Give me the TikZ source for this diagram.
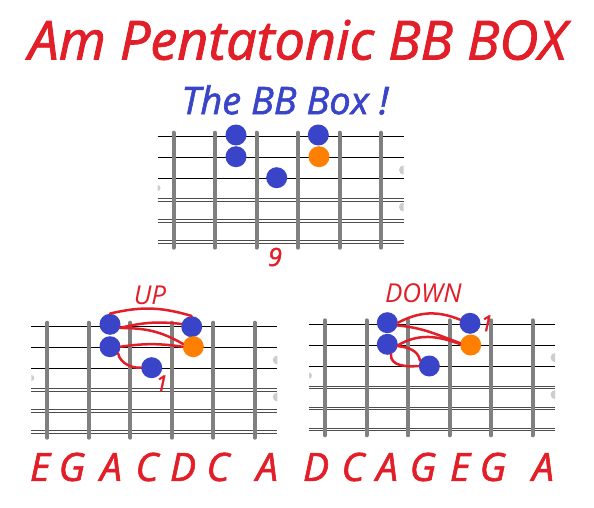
\documentclass[tikz,border=0pt]{standalone}
\usepackage{fontspec}
\setmainfont{Open Sans}
\newfontfamily\comicish{Open Sans Italic}[FakeBold=1.6]
\definecolor{myred}{RGB}{226,30,40}
\definecolor{myblue}{RGB}{58,68,200}
\definecolor{myorange}{RGB}{255,128,0}
\definecolor{fretgray}{RGB}{128,128,128}
\definecolor{markgray}{RGB}{205,205,205}
\tikzset{
  stringline/.style={black, line width=0.8pt},
  dblstring/.style={black!70, line width=0.7pt},
  fretline/.style={fretgray, line width=4pt, line cap=round},
  bdot/.style={circle, fill=myblue, minimum size=21pt, inner sep=0pt},
  odot/.style={circle, fill=myorange, minimum size=21pt, inner sep=0pt},
  redline/.style={myred, line width=2.5pt, line cap=round},
  redtxt/.style={text=myred, inner sep=0pt},
  bluetxt/.style={text=myblue, inner sep=0pt},
}
\newcommand{\fretboard}[2]{%
  \begin{scope}[shift={(#1,#2)}]
    \foreach \j in {0,1,2} \draw[stringline] (-16,-21*\j) -- (230,-21*\j);
    \foreach \j in {3,4,5} {
      \draw[dblstring] (-16,-21*\j+1.3) -- (230,-21*\j+1.3);
      \draw[dblstring] (-16,-21*\j-1.3) -- (230,-21*\j-1.3);
    }
    \foreach \i in {0,...,5} \draw[fretline] (41.5*\i,4) -- (41.5*\i,-111);
    \fill[markgray] (230,-33.3+4.5) arc (90:270:4.5) -- cycle;
    \fill[markgray] (230,-70.3+4.5) arc (90:270:4.5) -- cycle;
    \fill[markgray] (-16,-51.3+3) arc (90:-90:3) -- cycle;
  \end{scope}}
\begin{document}
\begin{tikzpicture}[x=1pt,y=1pt]
\useasboundingbox (0,0) rectangle (594,507);
\fill[white] (0,0) rectangle (594,507);

% titles
\node[redtxt, font=\comicish\fontsize{54}{60}\selectfont] (title) at (297.5,467) {Am Pentatonic BB BOX};
\node[bluetxt, font=\comicish\fontsize{38}{42}\selectfont] (sub) at (285,407) {The BB Box !};

% top board
\fretboard{173.5}{370.3}
\node[bdot] (T1) at (236,372) {};
\node[bdot] (T2) at (236,350.3) {};
\node[bdot] (T3) at (276.7,329.3) {};
\node[bdot] (T4) at (318.3,372) {};
\node[odot] (T5) at (319,350.3) {};
\node[redtxt, font=\comicish\fontsize{25}{28}\selectfont] (nine) at (275,250) {9};

% bottom-left board
\fretboard{47.3}{180.3}
\node[bdot] (L1) at (110,182.7) {};
\node[bdot] (L2) at (110,160.3) {};
\node[bdot] (L3) at (151.7,139.3) {};
\node[bdot] (L4) at (191.7,180.3) {};
\node[odot] (L5) at (193.3,160.3) {};
\node[redtxt, font=\itshape\fontsize{26}{30}\selectfont] (up) at (150,212) {UP};
\node[redtxt, font=\comicish\fontsize{22}{26}\selectfont] (oneL) at (161.7,123.7) {1};
\draw[redline] (L1.north) to[bend left=15] (L4.north);
\draw[redline] (L1.-20) to[bend left=10] (L4.165);
\draw[redline] (L1.-20) to[out=0,in=150] (L5.165);
\draw[redline] (L2.east) to[bend left=8] (L5.west);
\draw[redline] (L2.-40) to[out=-80,in=185,looseness=0.9] (L3.west);

% bottom-right board
\fretboard{325}{182.7}
\node[bdot] (R1) at (387.3,184.3) {};
\node[bdot] (R2) at (387.3,162.7) {};
\node[bdot] (R3) at (429.3,141) {};
\node[bdot] (R4) at (470,183.7) {};
\node[odot] (R5) at (470.7,162) {};
\node[redtxt, font=\itshape\fontsize{26}{30}\selectfont] (down) at (423.3,213.7) {DOWN};
\node[redtxt, font=\comicish\fontsize{22}{26}\selectfont] (oneR) at (486.7,183.7) {1};
\draw[redline] (R1.east) to[bend left=25] (R4.160);
\draw[redline] (R1.-15) to[out=-5,in=160] (R5.170);
\draw[redline] (R5.175) to[out=160,in=30] (R2.-5);
\draw[redline] (R2.-70) to[out=-95,in=185] (R3.west);
\draw[redline] (R2.-10) to[out=-5,in=100] (R3.150);

% note names
\foreach \x/\n [count=\k] in {40/E,72/G,111/A,147/C,183/D,218/C,267/A,316/D,353/C,387/A,423/G,460/E,493/G,543/A}
  \node[redtxt, font=\comicish\fontsize{39}{42}\selectfont] (note\k) at (\x,40) {\n};
\end{tikzpicture}
\end{document}
